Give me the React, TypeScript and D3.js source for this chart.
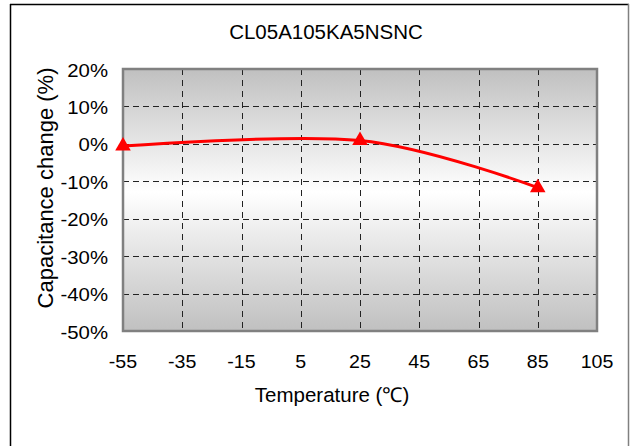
import * as d3 from 'd3';
import React, { useEffect, useRef } from 'react';

const title = 'CL05A105KA5NSNC';
const temps = [-55, 25, 85];
const changes = [-0.6, 0.9, -11.7];
const xTicks = [-55, -35, -15, 5, 25, 45, 65, 85, 105];
const yTicks = [20, 10, 0, -10, -20, -30, -40, -50];

const App: React.FC = () => {
  const ref = useRef<SVGSVGElement | null>(null);

  useEffect(() => {
    const width = 630;
    const height = 446;
    const m = { left: 123, top: 69, right: 597, bottom: 331 };
    const font = 'Arial, "Liberation Sans", sans-serif';

    const svg = d3.select(ref.current)
      .attr('width', width)
      .attr('height', height);
    svg.selectAll('*').remove();

    const x = d3.scaleLinear().domain([-55, 105]).range([m.left, m.right]);
    const y = d3.scaleLinear().domain([-50, 20]).range([m.bottom, m.top]);

    // outer frame
    svg.append('line').attr('x1', 10.5).attr('x2', 10.5).attr('y1', 4).attr('y2', height)
      .attr('stroke', '#000').attr('stroke-width', 1.5);
    svg.append('line').attr('x1', 10).attr('x2', 629).attr('y1', 4.5).attr('y2', 4.5)
      .attr('stroke', '#000').attr('stroke-width', 1.5);
    svg.append('line').attr('x1', 628.5).attr('x2', 628.5).attr('y1', 4).attr('y2', height)
      .attr('stroke', '#808080').attr('stroke-width', 1.5);

    const grad = svg.append('defs').append('linearGradient')
      .attr('id', 'bg').attr('x1', 0).attr('x2', 0).attr('y1', 0).attr('y2', 1);
    grad.append('stop').attr('offset', '0%').attr('stop-color', '#c0c0c0');
    grad.append('stop').attr('offset', '47%').attr('stop-color', '#ffffff');
    grad.append('stop').attr('offset', '100%').attr('stop-color', '#c0c0c0');

    svg.append('rect')
      .attr('x', m.left).attr('y', m.top)
      .attr('width', m.right - m.left).attr('height', m.bottom - m.top)
      .attr('fill', 'url(#bg)');

    // grid
    svg.append('g').selectAll('line')
      .data(yTicks.filter(t => t !== 20 && t !== -50))
      .enter().append('line')
      .attr('x1', m.left).attr('x2', m.right)
      .attr('y1', d => Math.round(y(d)) + 0.5).attr('y2', d => Math.round(y(d)) + 0.5)
      .attr('stroke', '#222').attr('stroke-dasharray', '6,4');
    svg.append('g').selectAll('line')
      .data(xTicks.filter(t => t !== -55 && t !== 105))
      .enter().append('line')
      .attr('x1', d => Math.round(x(d)) + 0.5).attr('x2', d => Math.round(x(d)) + 0.5)
      .attr('y1', m.top).attr('y2', m.bottom)
      .attr('stroke', '#222').attr('stroke-dasharray', '6,5');

    svg.append('rect')
      .attr('x', m.left).attr('y', m.top)
      .attr('width', m.right - m.left).attr('height', m.bottom - m.top)
      .attr('fill', 'none').attr('stroke', '#808080').attr('stroke-width', 2.5);

    // ticks (slightly wide glyphs in the original)
    svg.append('g').selectAll('text')
      .data(yTicks).enter().append('text')
      .attr('transform', d => `translate(108,${y(d) + 7.5}) scale(1.1,1)`)
      .attr('text-anchor', 'end')
      .attr('font-family', font).attr('font-size', 18.5)
      .text(d => `${d}%`);
    svg.append('g').selectAll('text')
      .data(xTicks).enter().append('text')
      .attr('transform', d => `translate(${x(d)},368) scale(1.06,1)`)
      .attr('text-anchor', 'middle')
      .attr('font-family', font).attr('font-size', 18.5)
      .text(d => d);

    svg.append('text')
      .attr('x', 326).attr('y', 39).attr('text-anchor', 'middle')
      .attr('font-family', font).attr('font-size', 20.5).text(title);
    svg.append('text')
      .attr('x', 332).attr('y', 401.5).attr('text-anchor', 'middle')
      .attr('font-family', font).attr('font-size', 20.5).text('Temperature (℃)');
    svg.append('text')
      .attr('transform', `translate(52.5,188) rotate(-90)`)
      .attr('text-anchor', 'middle')
      .attr('font-family', font).attr('font-size', 22).text('Capacitance change (%)');

    const pts: [number, number][] = temps.map((t, i) => [t, changes[i]]);
    const line = d3.line<[number, number]>()
      .x(d => x(d[0])).y(d => y(d[1]))
      .curve(d3.curveCardinal.tension(0));
    svg.append('path')
      .attr('d', line(pts))
      .attr('fill', 'none').attr('stroke', '#ff0000').attr('stroke-width', 3);

    const tri = d3.symbol().type(d3.symbolTriangle).size(105);
    svg.append('g').selectAll('path')
      .data(pts).enter().append('path')
      .attr('d', tri)
      .attr('transform', d => `translate(${x(d[0])},${y(d[1])})`)
      .attr('fill', '#ff0000');
  }, []);

  return <svg ref={ref} style={{ position: 'absolute', left: 0, top: 0 }}></svg>;
};

export default App;
